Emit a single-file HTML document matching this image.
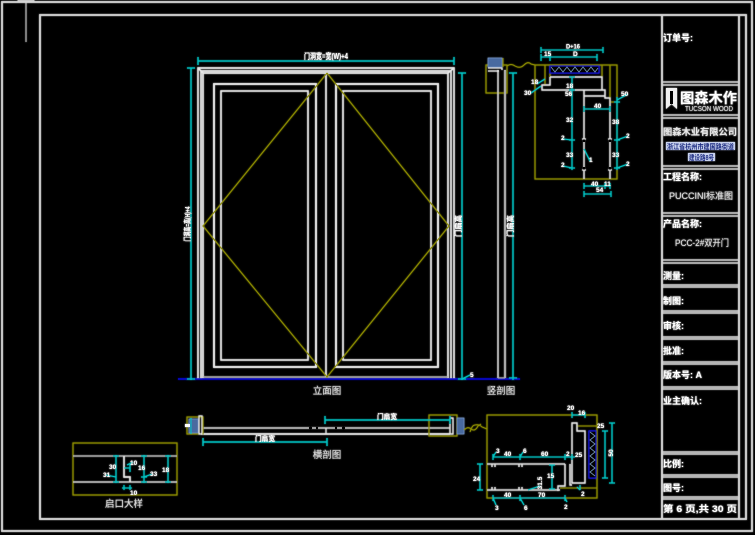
<!DOCTYPE html>
<html><head><meta charset="utf-8">
<style>
html,body{margin:0;padding:0;background:#000;}
svg{display:block;}
text{font-family:"Liberation Sans","Noto Sans CJK SC",sans-serif;fill:#fff;}
.t{font-size:9px;font-weight:bold;}
.s{font-size:6.5px;font-weight:bold;}
.lb{font-size:9.5px;fill:#dcdcdc;}
</style></head><body>
<svg width="755" height="535" viewBox="0 0 755 535" xmlns="http://www.w3.org/2000/svg">
<defs>
<filter id="glow" x="-5%" y="-5%" width="110%" height="110%">
  <feGaussianBlur in="SourceGraphic" stdDeviation="0.7" result="b"/>
  <feMerge><feMergeNode in="b"/><feMergeNode in="SourceGraphic"/></feMerge>
</filter>
</defs>
<rect width="755" height="535" fill="#000"/>
<g filter="url(#glow)">

<!-- ===== Frames ===== -->
<g fill="none" stroke="#d4d4d4" stroke-width="1.7">
  <rect x="2" y="2" width="750" height="529"/>
  <rect x="40" y="15" width="706" height="504"/>
  <line x1="662" y1="15" x2="662" y2="519"/>
  <line x1="739" y1="15" x2="739" y2="519"/>
</g>
<g stroke="#d4d4d4" stroke-width="1.3">
  <line x1="662" y1="82" x2="739" y2="82"/><line x1="662" y1="85" x2="739" y2="85"/>
  <line x1="662" y1="115" x2="739" y2="115"/><line x1="662" y1="118" x2="739" y2="118"/>
  <line x1="662" y1="166" x2="739" y2="166"/><line x1="662" y1="169" x2="739" y2="169"/>
  <line x1="662" y1="213" x2="739" y2="213"/><line x1="662" y1="216" x2="739" y2="216"/>
  <line x1="662" y1="260" x2="739" y2="260"/><line x1="662" y1="263" x2="739" y2="263"/>
  <line x1="662" y1="285" x2="739" y2="285"/><line x1="662" y1="287" x2="739" y2="287"/>
  <line x1="662" y1="311" x2="739" y2="311"/><line x1="662" y1="313" x2="739" y2="313"/>
  <line x1="662" y1="337" x2="739" y2="337"/><line x1="662" y1="339" x2="739" y2="339"/>
  <line x1="662" y1="362" x2="739" y2="362"/><line x1="662" y1="364" x2="739" y2="364"/>
  <line x1="662" y1="387" x2="739" y2="387"/><line x1="662" y1="389" x2="739" y2="389"/>
  <line x1="662" y1="452" x2="739" y2="452"/><line x1="662" y1="454" x2="739" y2="454"/>
  <line x1="662" y1="475" x2="739" y2="475"/><line x1="662" y1="477" x2="739" y2="477"/>
  <line x1="662" y1="497" x2="739" y2="497"/><line x1="662" y1="499" x2="739" y2="499"/>
</g>
<!-- small tick top-left -->
<g fill="none" stroke="#d8d8d8" stroke-width="0.8">
  <rect x="18" y="0.5" width="16" height="1"/>
  <line x1="26" y1="1" x2="26" y2="42"/>
</g>

<!-- ===== Title block text ===== -->
<text class="t" x="663" y="41">订单号:</text>
<path d="M666,88 H677 V109 L671.5,104 L666,109 Z" fill="#f0f0f0"/>
<rect x="670" y="91" width="3" height="13" fill="#000"/>
<text x="680" y="103" style="font-size:14px;font-weight:bold" textLength="57" lengthAdjust="spacingAndGlyphs">图森木作</text>
<text x="685" y="111" style="font-size:7px;fill:#e0e0e0" textLength="48" lengthAdjust="spacingAndGlyphs">TUCSON WOOD</text>
<text class="t" x="663" y="135" textLength="74" lengthAdjust="spacingAndGlyphs" style="fill:#e8e8e8">图森木业有限公司</text>
<rect x="666" y="142" width="69" height="8" fill="#c8d2ee"/>
<text x="667" y="149" style="font-size:7px;font-weight:bold;fill:#1a2a80" textLength="67" lengthAdjust="spacingAndGlyphs">浙江省杭州市建国路街道</text>
<rect x="688" y="153" width="27" height="8" fill="#c8d2ee"/>
<text x="689" y="160" style="font-size:7px;font-weight:bold;fill:#1a2a80" textLength="25" lengthAdjust="spacingAndGlyphs">建设路8号</text>
<text class="t" x="663" y="180">工程名称:</text>
<text x="669" y="199" style="font-size:9px;fill:#e0e0e0" textLength="64" lengthAdjust="spacingAndGlyphs">PUCCINI标准图</text>
<text class="t" x="663" y="227">产品名称:</text>
<text x="675" y="246" style="font-size:9px;fill:#e0e0e0" textLength="54" lengthAdjust="spacingAndGlyphs">PCC-2#双开门</text>
<text class="t" x="663" y="279">测量:</text>
<text class="t" x="663" y="304">制图:</text>
<text class="t" x="663" y="329">审核:</text>
<text class="t" x="663" y="354">批准:</text>
<text class="t" x="663" y="378">版本号:  A</text>
<text class="t" x="663" y="404">业主确认:</text>
<text class="t" x="663" y="467">比例:</text>
<text class="t" x="663" y="491">图号:</text>
<text class="t" x="663" y="512" textLength="74" lengthAdjust="spacingAndGlyphs">第 6 页,共 30 页</text>

<!-- ===== Main elevation ===== -->
<g fill="none" stroke="#e6e6e6" stroke-width="1.4">
  <path d="M198,379 V68 H454 V379"/>
  <path d="M201,379 V71 H451 V379"/>
  <path d="M203,378 V73 H448 V378"/>
  <line x1="198" y1="68" x2="203" y2="73"/>
  <line x1="454" y1="68" x2="448" y2="73"/>
  <rect x="214" y="84" width="102" height="283" stroke-width="1.7"/>
  <rect x="221" y="91" width="87" height="269"/>
  <rect x="336" y="84" width="102" height="283" stroke-width="1.7"/>
  <rect x="343" y="91" width="88" height="269"/>
  <line x1="326" y1="73" x2="326" y2="377"/>
</g>
<line x1="203" y1="377" x2="448" y2="377" stroke="#b0b0b0" stroke-width="1.3"/>
<polyline points="327,73 203,226 327,377 449,226 327,73" fill="none" stroke="#8c8c00" stroke-width="1.1"/>
<line x1="178" y1="379" x2="520" y2="379" stroke="#0a0ad0" stroke-width="1.6"/>
<g stroke="#00c4c4" stroke-width="1.2" fill="none">
  <line x1="198" y1="61" x2="454" y2="61"/>
  <line x1="198" y1="57" x2="198" y2="65"/><line x1="454" y1="57" x2="454" y2="65"/>
  <line x1="191" y1="68" x2="191" y2="380"/>
  <line x1="187" y1="68" x2="195" y2="68"/><line x1="187" y1="379" x2="195" y2="379"/>
  <line x1="462" y1="73" x2="462" y2="380"/>
  <line x1="458" y1="73" x2="466" y2="73"/><line x1="458" y1="379" x2="466" y2="379"/>
  <line x1="462" y1="379" x2="470" y2="375"/>
</g>
<text class="s" x="470" y="377">5</text>
<text x="304" y="59" style="font-size:8px;font-weight:bold" textLength="44" lengthAdjust="spacingAndGlyphs">门洞宽=宽(W)+4</text>
<text x="187" y="227" transform="rotate(-90 187 224)" text-anchor="middle" style="font-size:7.5px;font-weight:bold" textLength="35" lengthAdjust="spacingAndGlyphs">门洞高=高(H)+4</text>
<text x="458" y="229" transform="rotate(-90 458 226)" text-anchor="middle" style="font-size:7.5px;font-weight:bold" textLength="22" lengthAdjust="spacingAndGlyphs">门扇高</text>
<text class="lb" x="327" y="394" text-anchor="middle">立面图</text>

<!-- ===== Side section ===== -->
<rect x="486" y="65" width="21" height="28" fill="none" stroke="#8c8c00" stroke-width="1.1"/>
<rect x="488" y="58" width="14" height="9" fill="#4a6aa0" stroke="#7a9ac8" stroke-width="0.6"/>
<line x1="503" y1="58" x2="503" y2="67" stroke="#8c8c00" stroke-width="1"/>
<g fill="none" stroke="#e6e6e6" stroke-width="1.1">
  <path d="M488,68 H502 V70"/>
  <path d="M488,71 H499"/>
  <line x1="498" y1="70" x2="498" y2="378"/>
</g>
<line x1="505" y1="70" x2="505" y2="378" stroke="#a8a8a8" stroke-width="2"/>
<line x1="498" y1="378" x2="505" y2="378" stroke="#a8a8a8" stroke-width="1.2"/>
<line x1="513" y1="73" x2="513" y2="380" stroke="#00c4c4" stroke-width="1.2"/>
<line x1="509" y1="73" x2="517" y2="73" stroke="#00c4c4" stroke-width="1.2"/>
<line x1="509" y1="378" x2="517" y2="378" stroke="#00c4c4" stroke-width="1.2"/>
<text x="510" y="229" transform="rotate(-90 510 226)" text-anchor="middle" style="font-size:7.5px;font-weight:bold" textLength="22" lengthAdjust="spacingAndGlyphs">门扇高</text>
<text class="lb" x="501" y="394" text-anchor="middle">竖剖图</text>
<path d="M507,66 Q511,63 515,66 Q520,69 524,65 Q528,61 531,64 L535,65" fill="none" stroke="#8c8c00" stroke-width="1"/>

<!-- ===== Top-right detail ===== -->
<g fill="none" stroke="#8c8c00" stroke-width="1.1">
  <rect x="535" y="65" width="82" height="114"/>
  <line x1="545" y1="65" x2="545" y2="85"/>
  <line x1="550" y1="65" x2="550" y2="77"/>
  <line x1="602" y1="65" x2="602" y2="77"/>
  <path d="M610,65 V102 H617"/>
</g>
<rect x="550" y="66" width="49" height="7" fill="#000" stroke="#1818d8" stroke-width="1.2"/>
<polyline points="551,67 555,72 559,67 563,72 567,67 571,72 575,67 579,72 583,67 587,72 591,67 595,72 598,68" fill="none" stroke="#7090b0" stroke-width="0.9"/>
<g fill="none" stroke="#e2e2e2" stroke-width="1.2">
  <path d="M550,77 H602 V90"/>
  <path d="M550,77 V85 H542 V90 H605 V98 H610 V179"/>
  <path d="M584,90 V179"/>
  <path d="M584,96 H605"/>
</g>
<g stroke="#000" stroke-width="2">
  <line x1="584" y1="139" x2="584" y2="142"/><line x1="584" y1="167" x2="584" y2="170"/>
  <line x1="610" y1="139" x2="610" y2="142"/><line x1="610" y1="167" x2="610" y2="170"/>
</g>
<g stroke="#e2e2e2" stroke-width="1">
  <line x1="582" y1="139" x2="586" y2="139"/><line x1="582" y1="170" x2="586" y2="170"/>
  <line x1="608" y1="139" x2="612" y2="139"/><line x1="608" y1="170" x2="612" y2="170"/>
</g>
<g stroke="#00c4c4" stroke-width="1.1" fill="none">
  <line x1="541" y1="50" x2="603" y2="50"/>
  <line x1="541" y1="47" x2="541" y2="53"/><line x1="603" y1="47" x2="603" y2="53"/>
  <line x1="541" y1="57" x2="597" y2="57"/>
  <line x1="541" y1="54" x2="541" y2="61"/><line x1="550" y1="54" x2="550" y2="61"/><line x1="597" y1="54" x2="597" y2="61"/>
  <line x1="572" y1="77" x2="572" y2="170"/>
  <line x1="569" y1="77" x2="575" y2="77"/><line x1="569" y1="90" x2="575" y2="90"/>
  <line x1="569" y1="140" x2="575" y2="140"/><line x1="569" y1="168" x2="575" y2="168"/>
  <line x1="617" y1="97" x2="617" y2="170"/>
  <line x1="614" y1="102" x2="620" y2="102"/><line x1="614" y1="140" x2="620" y2="140"/><line x1="614" y1="168" x2="620" y2="168"/>
  <line x1="584" y1="109" x2="610" y2="109"/>
  <line x1="584" y1="106" x2="584" y2="112"/><line x1="610" y1="106" x2="610" y2="112"/>
  <line x1="584" y1="186" x2="610" y2="186"/>
  <line x1="584" y1="183" x2="584" y2="189"/><line x1="605" y1="183" x2="605" y2="189"/><line x1="610" y1="183" x2="610" y2="189"/>
  <line x1="584" y1="194" x2="611" y2="194"/>
  <line x1="584" y1="191" x2="584" y2="197"/><line x1="611" y1="191" x2="611" y2="197"/>
  <path d="M537,84 L545,79"/><path d="M531,93 L541,86"/>
  <path d="M617,100 L628,94"/><path d="M617,140 L628,136"/><path d="M617,168 L628,164"/>
  <path d="M572,140 L563,139"/><path d="M572,168 L563,166"/>
  <path d="M584,149 L590,161"/>
</g>
<g>
  <text class="s" x="566" y="48.5" textLength="14" lengthAdjust="spacingAndGlyphs">D+16</text>
  <text class="s" x="544" y="56">15</text>
  <text class="s" x="573" y="56">D</text>
  <text class="s" x="531" y="84">18</text>
  <text class="s" x="524" y="95">30</text>
  <text class="s" x="566" y="88">18</text>
  <text class="s" x="565" y="96">56</text>
  <text class="s" x="621" y="96">50</text>
  <text class="s" x="594" y="108">40</text>
  <text class="s" x="566" y="122">32</text>
  <text class="s" x="612" y="124">38</text>
  <text class="s" x="561" y="140">2</text>
  <text class="s" x="566" y="157">33</text>
  <text class="s" x="561" y="167">2</text>
  <text class="s" x="612" y="157">33</text>
  <text class="s" x="626" y="138">2</text>
  <text class="s" x="626" y="166">2</text>
  <text class="s" x="589" y="162">1</text>
  <text class="s" x="591" y="186">40</text>
  <text class="s" x="604" y="186">11</text>
  <text class="s" x="596" y="192">54</text>
</g>

<!-- ===== Bottom-left ===== -->
<rect x="73" y="443" width="104" height="52" fill="none" stroke="#8c8c00" stroke-width="1.1"/>
<line x1="73" y1="456" x2="177" y2="456" stroke="#b0b0b0" stroke-width="1.3"/>
<line x1="73" y1="482" x2="177" y2="482" stroke="#c8c8c8" stroke-width="1.3"/>
<path d="M124,456 V477 H130 V482" fill="none" stroke="#e2e2e2" stroke-width="1.4"/>
<g stroke="#00c4c4" stroke-width="1.1" fill="none">
  <line x1="116" y1="455" x2="116" y2="483"/>
  <line x1="113" y1="456" x2="119" y2="456"/><line x1="113" y1="482" x2="119" y2="482"/>
  <line x1="144" y1="455" x2="144" y2="483"/>
  <line x1="141" y1="456" x2="147" y2="456"/><line x1="141" y1="477" x2="147" y2="477"/><line x1="141" y1="482" x2="147" y2="482"/>
  <line x1="168" y1="455" x2="168" y2="483"/>
  <line x1="165" y1="456" x2="171" y2="456"/><line x1="165" y1="482" x2="171" y2="482"/>
  <path d="M124,468 L130,468 M130,463 L130,472 M127,465 L133,462"/>
  <path d="M124,485 L124,490 M130,485 L130,490 M122,488 L132,488"/>
  <path d="M116,477 L106,475 M144,477 L152,474"/>
</g>
<g>
  <text class="s" x="130" y="465">10</text>
  <text class="s" x="109" y="469">30</text>
  <text class="s" x="103" y="477">31</text>
  <text class="s" x="138" y="470">16</text>
  <text class="s" x="150" y="476">33</text>
  <text class="s" x="162" y="472">18</text>
  <text class="s" x="130" y="495">10</text>
</g>
<text class="lb" x="124" y="507" text-anchor="middle">启口大样</text>

<!-- ===== Bottom-middle ===== -->
<line x1="203" y1="428" x2="450" y2="428" stroke="#b8b8b8" stroke-width="1.4"/>
<line x1="201" y1="434" x2="450" y2="434" stroke="#e6e6e6" stroke-width="1.4"/>
<g fill="#000">
  <rect x="309" y="427" width="3" height="2"/><rect x="316" y="427" width="2" height="2"/>
  <rect x="335" y="427" width="2" height="2"/><rect x="342" y="427" width="3" height="2"/>
</g>
<line x1="326" y1="428" x2="326" y2="434" stroke="#e6e6e6" stroke-width="1"/>
<rect x="187" y="417" width="16" height="17" fill="none" stroke="#8c8c00" stroke-width="1.1"/>
<rect x="189" y="419" width="9" height="14" fill="#4a6aa0" stroke="#7a9ac8" stroke-width="0.6"/>
<rect x="199" y="416" width="3" height="18" fill="none" stroke="#e6e6e6" stroke-width="1.1"/>
<line x1="191" y1="418" x2="191" y2="434" stroke="#00c4c4" stroke-width="1.1"/>
<rect x="185" y="424" width="5" height="3" fill="#fff"/>
<rect x="429" y="415" width="28" height="21" fill="none" stroke="#8c8c00" stroke-width="1.1"/>
<rect x="450" y="418" width="3" height="16" fill="none" stroke="#e6e6e6" stroke-width="1.1"/>
<rect x="457" y="418" width="7" height="16" fill="#4a6aa0" stroke="#7a9ac8" stroke-width="0.6"/>
<path d="M464,430 Q468,426 471,429 Q475,432 478,426 L481,424" fill="none" stroke="#8c8c00" stroke-width="1"/>
<g stroke="#00c4c4" stroke-width="1.2" fill="none">
  <line x1="325" y1="420" x2="450" y2="420"/>
  <line x1="325" y1="416" x2="325" y2="424"/><line x1="450" y1="416" x2="450" y2="424"/>
  <line x1="203" y1="442" x2="327" y2="442"/>
  <line x1="203" y1="438" x2="203" y2="446"/><line x1="327" y1="438" x2="327" y2="446"/>
</g>
<text x="377" y="419" style="font-size:7px;font-weight:bold" textLength="20" lengthAdjust="spacingAndGlyphs">门扇宽</text>
<text x="255" y="441" style="font-size:7px;font-weight:bold" textLength="20" lengthAdjust="spacingAndGlyphs">门扇宽</text>
<text class="lb" x="327" y="458" text-anchor="middle">横剖图</text>

<!-- ===== Bottom-right detail ===== -->
<path d="M470,432 Q472,425 475,425 Q479,424 482,427 L487,429" fill="none" stroke="#8c8c00" stroke-width="1"/>
<g fill="none" stroke="#8c8c00" stroke-width="1.1">
  <rect x="487" y="415" width="110" height="83"/>
  <line x1="577" y1="426" x2="597" y2="426"/>
  <line x1="560" y1="488" x2="597" y2="488"/>
</g>
<line x1="487" y1="464" x2="565" y2="464" stroke="#c0c0c0" stroke-width="1.5"/>
<line x1="487" y1="490" x2="560" y2="490" stroke="#c0c0c0" stroke-width="1.5"/>
<g fill="none" stroke="#e2e2e2" stroke-width="1.2">
  <path d="M572,423 H577 V431 H585 V483 H572 Z"/>
  <path d="M565,464 V486 H558 V491"/>
  <path d="M570,464 V485 H572"/>
  <path d="M492,464 V467 M495,464 V467 M519,464 V467 M522,464 V467"/>
  <path d="M492,487 V490 M495,487 V490 M519,487 V490 M522,487 V490"/>
</g>
<rect x="589" y="431" width="7" height="47" fill="#000" stroke="#1818d8" stroke-width="1.2"/>
<polyline points="590,432 595,436 590,440 595,444 590,448 595,452 590,456 595,460 590,464 595,468 590,472 595,476" fill="none" stroke="#7090b0" stroke-width="0.9"/>
<g stroke="#00c4c4" stroke-width="1.1" fill="none">
  <line x1="572" y1="415" x2="585" y2="415"/>
  <line x1="572" y1="412" x2="572" y2="418"/><line x1="585" y1="412" x2="585" y2="418"/>
  <line x1="605" y1="431" x2="605" y2="478"/>
  <line x1="602" y1="431" x2="608" y2="431"/><line x1="602" y1="478" x2="608" y2="478"/>
  <line x1="612" y1="423" x2="612" y2="483"/>
  <line x1="609" y1="423" x2="615" y2="423"/><line x1="609" y1="483" x2="615" y2="483"/>
  <line x1="493" y1="457" x2="575" y2="457"/>
  <line x1="493" y1="454" x2="493" y2="460"/><line x1="520" y1="454" x2="520" y2="460"/>
  <line x1="565" y1="454" x2="565" y2="460"/><line x1="572" y1="454" x2="572" y2="460"/>
  <path d="M493,457 L496,452 M520,457 L523,452"/>
  <line x1="480" y1="464" x2="480" y2="490"/>
  <line x1="477" y1="464" x2="483" y2="464"/><line x1="477" y1="490" x2="483" y2="490"/>
  <line x1="552" y1="465" x2="552" y2="489"/>
  <line x1="549" y1="465" x2="555" y2="465"/><line x1="549" y1="489" x2="555" y2="489"/>
  <path d="M528,490 L540,486"/>
  <line x1="493" y1="498" x2="565" y2="498"/>
  <line x1="493" y1="495" x2="493" y2="501"/><line x1="520" y1="495" x2="520" y2="501"/><line x1="565" y1="495" x2="565" y2="501"/>
  <path d="M493,498 L496,505 M520,498 L524,505 M565,498 L567,502"/>
  <path d="M577,487 L580,490 M580,485 L580,490"/>
</g>
<g>
  <text class="s" x="567" y="410">20</text>
  <text class="s" x="578" y="415">16</text>
  <text class="s" x="597" y="428">25</text>
  <text x="610" y="456" transform="rotate(-90 610 453)" text-anchor="middle" class="s">50</text>
  <text class="s" x="496" y="453">3</text>
  <text class="s" x="504" y="456">40</text>
  <text class="s" x="523" y="453">6</text>
  <text class="s" x="541" y="456">60</text>
  <text class="s" x="566" y="456">2</text>
  <text class="s" x="575" y="457">25</text>
  <text class="s" x="473" y="481">24</text>
  <text class="s" x="547" y="478">15</text>
  <text x="539" y="486" transform="rotate(-90 539 483)" text-anchor="middle" class="s">31.5</text>
  <text class="s" x="504" y="497">40</text>
  <text class="s" x="538" y="497">70</text>
  <text class="s" x="495" y="510">3</text>
  <text class="s" x="524" y="510">6</text>
  <text class="s" x="564" y="509">2</text>
  <text class="s" x="581" y="496">2</text>
</g>
</g>
</svg>
</body></html>
